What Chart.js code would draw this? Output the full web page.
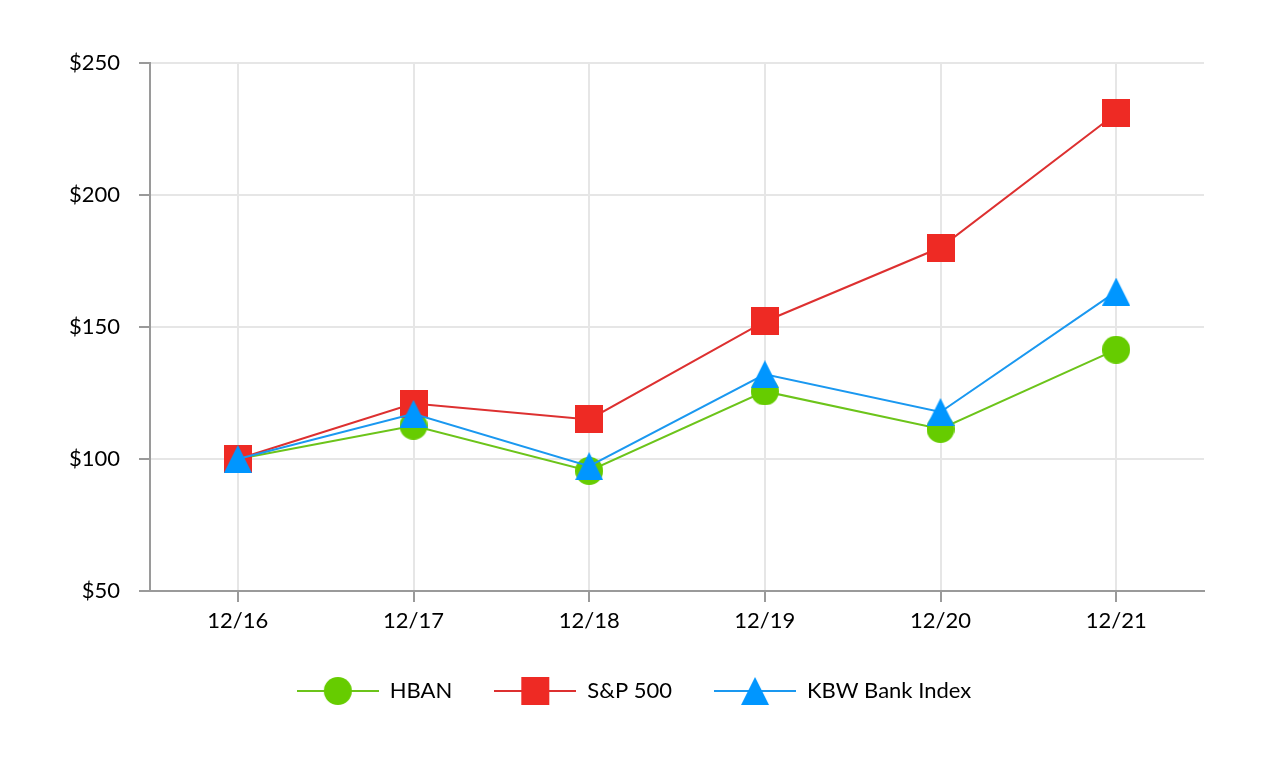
<!DOCTYPE html>
<html><head><meta charset="utf-8">
<script src="https://cdn.jsdelivr.net/npm/chart.js@4"></script>
<style>html,body{margin:0;padding:0;background:#fff}#wrap{width:1268px;height:780px}</style>
</head><body><div id="wrap"><canvas id="c" width="1268" height="780"></canvas></div>
<script>
const categories = ['12/16', '12/17', '12/18', '12/19', '12/20', '12/21'];
const hbanValues = [100, 112.6, 95.5, 125.6, 111.4, 141.4];
const sp500Values = [100, 121.0, 115.0, 152.1, 180.1, 230.9];
const kbwValues = [100, 117.1, 97.3, 132.1, 117.8, 163.4];
const seriesNames = ['HBAN', 'S&P 500', 'KBW Bank Index'];
const yTickValues = [50, 100, 150, 200, 250];

const FONT = 'Lato';
const greenMarker = '#66cc00', greenLine = '#6cc41a';
const redMarker = '#ee2a24', redLine = '#dd3030';
const blueMarker = '#0096ff', blueLine = '#1a98f0';

function shapeCanvas(shape, color, size, lineColor, width) {
  const w = width || size, h = size;
  const c = document.createElement('canvas');
  c.width = w; c.height = h;
  const ctx = c.getContext('2d');
  if (lineColor) {
    ctx.strokeStyle = lineColor; ctx.lineWidth = 2;
    ctx.beginPath(); ctx.moveTo(0, h / 2); ctx.lineTo(w, h / 2); ctx.stroke();
  }
  const cx = w / 2, cy = h / 2;
  ctx.fillStyle = color;
  ctx.beginPath();
  if (shape === 'circle') {
    ctx.arc(cx, cy, size / 2, 0, Math.PI * 2);
  } else if (shape === 'rect') {
    ctx.rect(cx - size / 2, cy - size / 2, size, size);
  } else {
    ctx.moveTo(cx, cy - size / 2);
    ctx.lineTo(cx + size / 2, cy + size / 2);
    ctx.lineTo(cx - size / 2, cy + size / 2);
    ctx.closePath();
  }
  ctx.fill();
  return c;
}

const MS = 28;
const pts = [shapeCanvas('circle', greenMarker, MS), shapeCanvas('rect', redMarker, MS), shapeCanvas('triangle', blueMarker, MS)];
const legendPts = [
  shapeCanvas('circle', greenMarker, MS, greenLine, 82),
  shapeCanvas('rect', redMarker, MS, redLine, 82),
  shapeCanvas('triangle', blueMarker, MS, blueLine, 82)
];

new Chart(document.getElementById('c'), {
  type: 'line',
  data: {
    labels: categories,
    datasets: [
      { label: seriesNames[0], data: hbanValues, borderColor: greenLine, backgroundColor: greenMarker, borderWidth: 2, pointStyle: pts[0], order: 3, tension: 0 },
      { label: seriesNames[1], data: sp500Values, borderColor: redLine, backgroundColor: redMarker, borderWidth: 2, pointStyle: pts[1], order: 2, tension: 0 },
      { label: seriesNames[2], data: kbwValues, borderColor: blueLine, backgroundColor: blueMarker, borderWidth: 2, pointStyle: pts[2], order: 1, tension: 0 }
    ]
  },
  options: {
    responsive: false,
    animation: false,
    devicePixelRatio: 1,
    layout: { padding: { top: 63, right: 0, bottom: 68, left: 0 } },
    plugins: {
      tooltip: { enabled: false },
      legend: {
        position: 'bottom',
        labels: {
          usePointStyle: true,
          pointStyleWidth: 82,
          padding: 42,
          color: '#000',
          font: { family: FONT, size: 22 },
          generateLabels: (chart) => chart.data.datasets.map((ds, i) => ({
            text: ds.label, pointStyle: legendPts[i], datasetIndex: i,
            fillStyle: ds.backgroundColor, strokeStyle: ds.borderColor, lineWidth: 0, hidden: false
          }))
        }
      }
    },
    scales: {
      x: {
        type: 'category',
        offset: true,
        grid: { color: '#e6e6e6', lineWidth: 2, offset: false, tickLength: 11, tickColor: '#9a9a9a', tickWidth: 2 },
        border: { color: '#9a9a9a', width: 2 },
        ticks: { color: '#000', font: { family: FONT, size: 22 }, padding: 6, maxRotation: 0 },
        afterFit: (s) => { s.height = 47; }
      },
      y: {
        min: 50, max: 250,
        afterBuildTicks: (s) => { s.ticks = yTickValues.map(v => ({ value: v })); },
        grid: { color: '#e6e6e6', lineWidth: 2, tickLength: 11, tickColor: '#9a9a9a', tickWidth: 2 },
        border: { color: '#9a9a9a', width: 2 },
        ticks: { color: '#000', font: { family: FONT, size: 22 }, padding: 19, callback: (v) => '$' + v },
        afterFit: (s) => { s.width = 150; }
      },
      y2: {
        position: 'right', display: true, min: 0, max: 1,
        grid: { display: false, drawTicks: false }, border: { display: false },
        ticks: { display: false },
        afterFit: (s) => { s.width = 64; }
      }
    }
  }
});
</script>
</body></html>
